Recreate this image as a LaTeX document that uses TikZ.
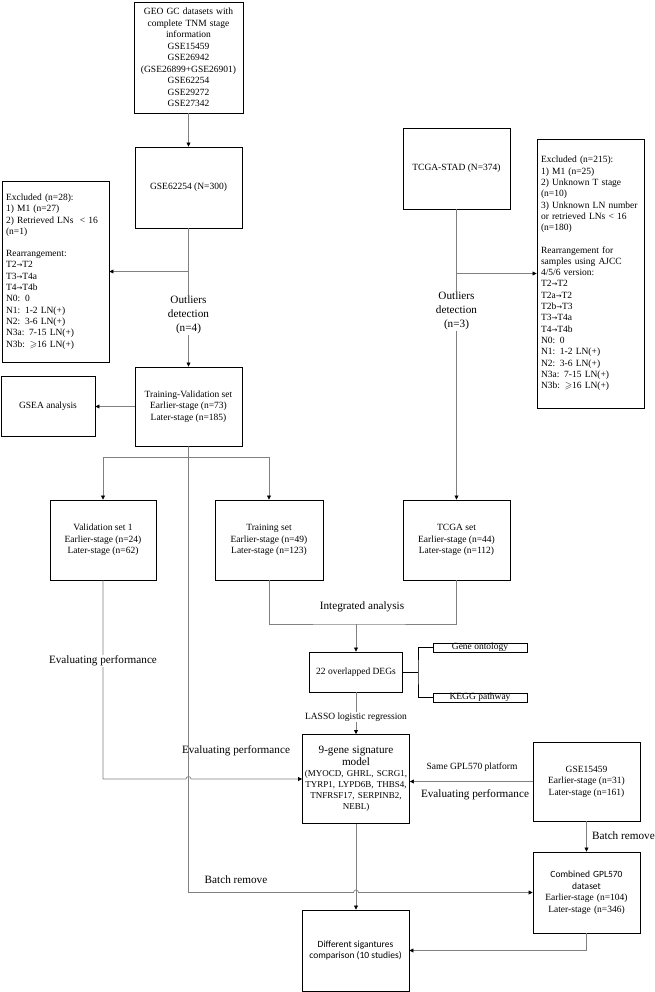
\documentclass[tikz,border=0pt]{standalone}
\usepackage{amssymb}
\usepackage{fontspec}
\setmainfont{Liberation Serif}
\newfontfamily\calfont{Carlito}
\newfontfamily\symfont{DejaVu Sans}
\usetikzlibrary{arrows.meta,calc}
\newcommand\fs{\fontsize{9.5}{11.5}\selectfont}
\newcommand\bfs{\fontsize{11.2}{13.8}\selectfont}
\newcommand\exfs{\fontsize{9.5}{11.3}\selectfont}
\newcommand\ra{{\symfont\fontsize{7}{7}\selectfont →}}
\tikzset{
  box/.style={draw=black, line width=0.9pt, align=center, font=\fs, inner sep=2pt},
  exbox/.style={box, align=left, font=\exfs, text width=99pt},
  conn/.style={draw=black!50, line width=0.7pt},
  bracket/.style={draw=black, line width=0.9pt},
  lbl/.style={font=\bfs, align=center, inner sep=1pt},
  >={Triangle[length=4pt,width=4pt,color=black]}
}

\begin{document}
\begin{tikzpicture}[x=1pt,y=-1pt]
\useasboundingbox (0,0) rectangle (655,992);
\node[box, minimum width=109pt, minimum height=111pt, text width=105pt] (geo) at (188.5,57.5) {GEO GC datasets with\\complete TNM stage\\information\\GSE15459\\GSE26942\\(GSE26899+GSE26901)\\GSE62254\\GSE29272\\GSE27342};
\node[box, minimum width=107pt, minimum height=81pt] (gse62254) at (188.5,187.5) {GSE62254 (N=300)};
\node[exbox, minimum width=107pt, minimum height=181pt] (excl1) at (55.5,271.5) {Excluded (n=28):\\1) M1 (n=27)\\2) Retrieved LNs~~< 16\\(n=1)\\[11pt]Rearrangement:\\T2\ra T2\\T3\ra T4a\\T4\ra T4b\\N0: 0\\N1: 1-2 LN(+)\\N2: 3-6 LN(+)\\N3a: 7-15 LN(+)\\N3b: $\geqslant$16 LN(+)};
\node[box, minimum width=107pt, minimum height=81pt] (tcgastad) at (456.5,168.5) {TCGA-STAD (N=374)};
\node[exbox, minimum width=107pt, minimum height=269pt] (excl2) at (590.5,273.5) {Excluded (n=215):\\1) M1 (n=25)\\2) Unknown T stage\\(n=10)\\3) Unknown LN number\\or retrieved LNs < 16\\(n=180)\\[11pt]Rearrangement for\\samples using AJCC\\4/5/6 version:\\T2\ra T2\\T2a\ra T2\\T2b\ra T3\\T3\ra T4a\\T4\ra T4b\\N0: 0\\N1: 1-2 LN(+)\\N2: 3-6 LN(+)\\N3a: 7-15 LN(+)\\N3b: $\geqslant$16 LN(+)};
\node[box, minimum width=107pt, minimum height=79pt] (tv) at (188.5,406.5) {Training-Validation set\\Earlier-stage (n=73)\\Later-stage (n=185)};
\node[box, minimum width=94pt, minimum height=60pt] (gsea) at (48,406) {GSEA analysis};
\node[box, minimum width=106pt, minimum height=80pt] (val1) at (103,540) {Validation set 1\\Earlier-stage (n=24)\\Later-stage (n=62)};
\node[box, minimum width=108pt, minimum height=80pt] (train) at (269,540) {Training set\\Earlier-stage (n=49)\\Later-stage (n=123)};
\node[box, minimum width=107pt, minimum height=80pt] (tcgaset) at (456.5,540) {TCGA set\\Earlier-stage (n=44)\\Later-stage (n=112)};
\node[box, minimum width=93pt, minimum height=40pt] (deg) at (356,672) {22 overlapped DEGs};
\node[box, minimum width=94pt, minimum height=9pt, inner sep=0pt] (go) at (480,647.5) {Gene ontology};
\node[box, minimum width=94pt, minimum height=9pt, inner sep=0pt] (kegg) at (480,697.5) {KEGG pathway};
\node[box, minimum width=107pt, minimum height=89pt, text width=103pt] (sig) at (356,779) {{\fontsize{11.2}{12}\selectfont 9-gene signature\\model}\\{\fontsize{9}{11}\selectfont (MYOCD, GHRL, SCRG1,\\TYRP1, LYPD6B, THBS4,\\TNFRSF17, SERPINB2,\\NEBL)}};
\node[box, minimum width=107pt, minimum height=79pt] (gse15459) at (586.5,781.5) {GSE15459\\Earlier-stage (n=31)\\Later-stage (n=161)};
\node[box, minimum width=107pt, minimum height=81pt, text width=103pt] (comb) at (586.5,892.5) {{\calfont Combined GPL570\\dataset}\\Earlier-stage (n=104)\\Later-stage (n=346)};
\node[box, minimum width=107pt, minimum height=81pt, font=\calfont\fs] (diff) at (355.5,950.5) {Different sigantures\\comparison (10 studies)};
\coordinate (split) at (188.5,457);
\coordinate (integ) at (356,624);
\coordinate (fork) at (418,672);

\draw[conn,->] (geo) -- (gse62254);
\draw[conn,->] (gse62254) -- (tv);
\draw[conn,->] (gse62254.south |- excl1.east) -- (excl1.east);
\draw[conn,->] (tcgastad) -- (tcgaset);
\draw[conn,->] (tcgastad.south |- excl2.west) -- (excl2.west);
\draw[conn,->] (tv.west) -- (tv.west -| gsea.east);
\draw[conn,->] (split) -| (val1.north);
\draw[conn,->] (split) -| (train.north);
\draw[conn,->] (tv.south) -- (tv.south |- comb.west) -- ($(sig.south |- comb.west)+(-2.5,0)$) arc[start angle=180,end angle=0,radius=2.5pt] -- (comb.west);
\draw[conn,->] (val1.south) |- ($(tv.south |- sig.west)+(-2.5,0)$) arc[start angle=180,end angle=0,radius=2.5pt] -- (sig.west);
\draw[conn] (train.south) |- (integ) -| (tcgaset.south);
\draw[conn,->] (integ) -- (deg.north);
\draw[bracket] (deg.east) -- (fork);
\draw[bracket] (go.west) -| (fork) |- (kegg.west);
\draw[conn,->] (deg) -- (sig);
\draw[conn,->] (gse15459.west) -- (gse15459.west -| sig.east);
\draw[conn,->] (gse15459) -- (comb);
\draw[conn,->] (sig.south) -- (sig.south |- diff.north);
\draw[conn,->] (comb.south) |- (diff.east);

\node[lbl, fill=white] (outl1) at (188.5,315) {Outliers\\detection\\(n=4)};
\node[lbl, fill=white] (outl2) at (456.5,311) {Outliers\\detection\\(n=3)};
\node[lbl] (integlbl) at (362,607) {Integrated analysis};
\node[lbl, fill=white] (eval1) at (103,661) {Evaluating performance};
\node[lbl] (eval2) at (236,751) {Evaluating performance};
\node[lbl, font=\fs, fill=white] (lasso) at (356,717) {LASSO logistic regression};
\node[lbl, font=\fs] (same) at (472,767) {Same GPL570 platform};
\node[lbl] (eval3) at (475,795) {Evaluating performance};
\node[lbl] (batch1) at (236,880) {Batch remove};
\node[lbl, anchor=west] (batch2) at (591,836) {Batch remove};
\end{tikzpicture}
\end{document}
